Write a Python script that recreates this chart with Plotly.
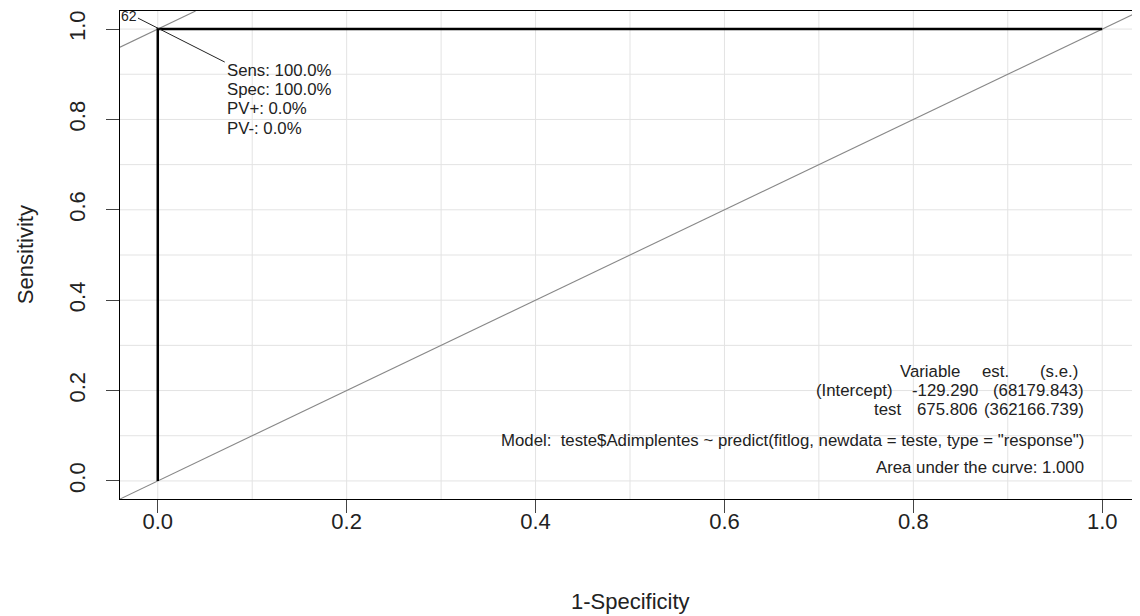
import plotly.graph_objects as go

# ROC curve data
fpr = [0.0, 0.0, 1.0]          # 1 - Specificity
sens = [0.0, 1.0, 1.0]         # Sensitivity

# reference lines
diag_x = [-0.04, 1.04]
diag_y = [-0.04, 1.04]
opt_x = [-0.04, 0.04]
opt_y = [0.96, 1.04]

tick_vals = [0.0, 0.2, 0.4, 0.6, 0.8, 1.0]
tick_text = ["0.0", "0.2", "0.4", "0.6", "0.8", "1.0"]
grid_vals = [i / 10 for i in range(11)]

# optimal point label
opt_label = "62"
opt_stats = ["Sens: 100.0%", "Spec: 100.0%", "PV+: 0.0%", "PV-: 0.0%"]

# model table
tab_header = ["Variable", "est.", "(s.e.)"]
tab_rows = [["(Intercept)", "-129.290", "(68179.843)"],
            ["test", "675.806", "(362166.739)"]]
model_text = 'Model:  teste$Adimplentes ~ predict(fitlog, newdata = teste, type = "response")'
auc_text = "Area under the curve: 1.000"

FONT = "Liberation Sans, Arial, sans-serif"
TXT = 16.8

fig = go.Figure()

# grid lines
for g in grid_vals:
    fig.add_trace(go.Scatter(x=[g, g], y=[-0.04, 1.04], mode="lines",
                             line=dict(color="#e3e3e3", width=1), hoverinfo="skip", showlegend=False))
    fig.add_trace(go.Scatter(x=[-0.04, 1.04], y=[g, g], mode="lines",
                             line=dict(color="#e3e3e3", width=1), hoverinfo="skip", showlegend=False))

fig.add_trace(go.Scatter(x=diag_x, y=diag_y, mode="lines",
                         line=dict(color="#888888", width=1.1), showlegend=False))
fig.add_trace(go.Scatter(x=opt_x, y=opt_y, mode="lines",
                         line=dict(color="#888888", width=1.1), showlegend=False))
fig.add_trace(go.Scatter(x=fpr, y=sens, mode="lines",
                         line=dict(color="black", width=2.5), showlegend=False))
# connector from label to stats text
fig.add_trace(go.Scatter(x=[-0.021, 0.0709], y=[1.0243, 0.927], mode="lines",
                         line=dict(color="#222222", width=1), showlegend=False))

ann = []
ann.append(dict(x=-0.031, y=1.03, xref="x", yref="y", text=opt_label, showarrow=False,
                font=dict(size=14, color="#222"), xanchor="center", yanchor="middle"))
for i, s in enumerate(opt_stats):
    ann.append(dict(x=0.0709, y=[0.9093, 0.8673, 0.8252, 0.781][i], xref="x", yref="y",
                    text=s, showarrow=False, font=dict(size=TXT, color="#222"),
                    xanchor="left", yanchor="middle"))

col_right_header = [0.8513, 0.9033, 0.9763]
col_right_rows = [[0.7790, 0.8710, 0.9827], [0.7890, 0.8710, 0.9827]]
row_y = [0.2412, 0.1991, 0.1571]
for j, t in enumerate(tab_header):
    ann.append(dict(x=col_right_header[j], y=row_y[0], xref="x", yref="y", text=t, showarrow=False,
                    font=dict(size=TXT, color="#222"), xanchor="right", yanchor="middle"))
for r, row in enumerate(tab_rows):
    for j, t in enumerate(row):
        ann.append(dict(x=col_right_rows[r][j], y=row_y[r + 1], xref="x", yref="y", text=t,
                        showarrow=False, font=dict(size=TXT, color="#222"),
                        xanchor="right", yanchor="middle"))
ann.append(dict(x=0.9827, y=0.0885, xref="x", yref="y", text=model_text, showarrow=False,
                font=dict(size=TXT, color="#222"), xanchor="right", yanchor="middle"))
ann.append(dict(x=0.9827, y=0.0288, xref="x", yref="y", text=auc_text, showarrow=False,
                font=dict(size=TXT, color="#222"), xanchor="right", yanchor="middle"))

# axis titles (paper coords; plot area spans 1020 x 488 px)
ann.append(dict(x=-0.093, y=0.5, xref="paper", yref="paper", text="Sensitivity", textangle=-90,
                showarrow=False, font=dict(size=22, color="#222"), xanchor="center", yanchor="middle"))
ann.append(dict(x=0.5, y=-0.211, xref="paper", yref="paper", text="1-Specificity",
                showarrow=False, font=dict(size=22, color="#222"), xanchor="center", yanchor="middle"))

# page has an 8px body margin, so the figure is offset by 8px
fig.update_layout(
    width=1132, height=608,
    margin=dict(l=112, r=0, t=3, b=117),
    paper_bgcolor="white", plot_bgcolor="white",
    font=dict(family=FONT, color="#222"),
    annotations=ann,
    showlegend=False,
)
fig.update_xaxes(range=[-0.04, 1.04], tickvals=tick_vals, ticktext=tick_text, showgrid=False,
                 zeroline=False, showline=True, linecolor="black", linewidth=1, mirror=True,
                 ticks="outside", ticklen=13, tickcolor="#444", ticklabelstandoff=-10,
                 tickfont=dict(size=22, color="#222"))
fig.update_yaxes(range=[-0.04, 1.04], tickvals=tick_vals, ticktext=tick_text, showgrid=False,
                 zeroline=False, showline=True, linecolor="black", linewidth=1, mirror=True,
                 ticks="outside", ticklen=13, tickcolor="#444", tickangle=-90,
                 ticklabelstandoff=12, tickfont=dict(size=22, color="#222"))

fig.write_html("out.html")
